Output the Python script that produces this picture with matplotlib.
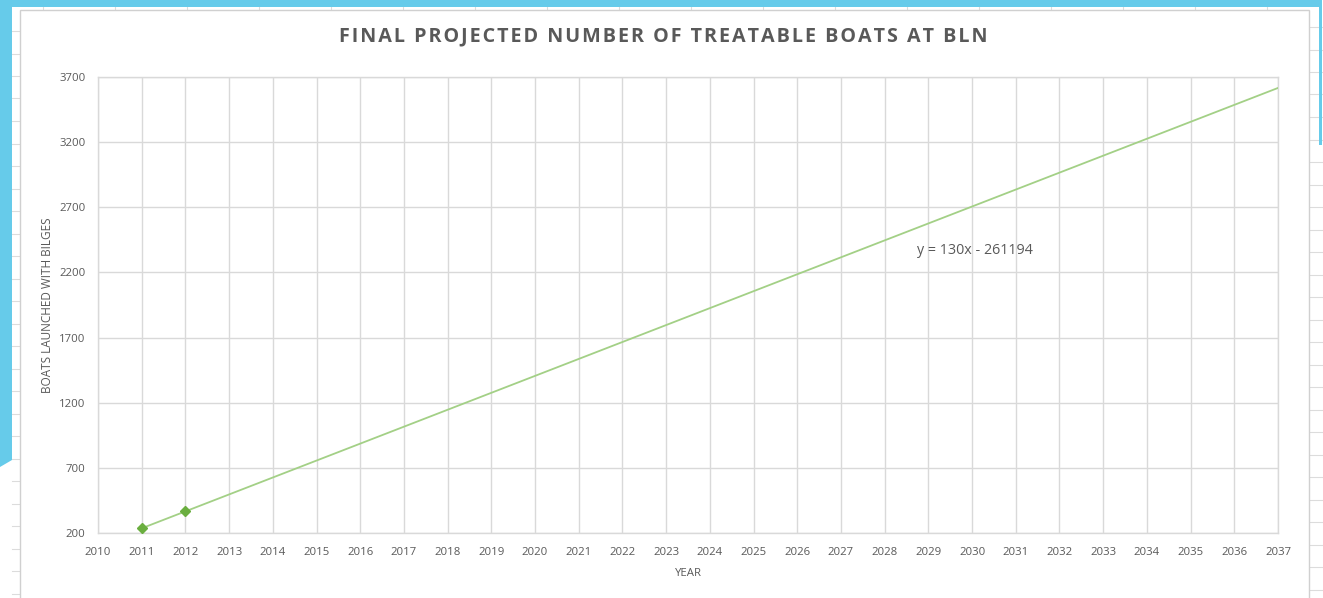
import matplotlib.pyplot as plt
import numpy as np
from matplotlib.patches import Rectangle, Polygon

# Observed data
years = [2011, 2012]
boats = [236, 366]

# Axis ranges / ticks
x_ticks = list(range(2010, 2038))
y_ticks = [200, 700, 1200, 1700, 2200, 2700, 3200, 3700]
trend_end = 2037

title = "FINAL PROJECTED NUMBER OF TREATABLE BOATS AT BLN"
xlabel = "YEAR"
ylabel = "BOATS LAUNCHED WITH BILGES"

W, H = 1323, 598
txt = '#595959'
grid = '#d9d9d9'
blue = '#66cbea'

if __name__ == '__main__':
    plt.rcParams['font.family'] = ['Open Sans', 'DejaVu Sans']
    fig = plt.figure(figsize=(W / 100, H / 100), dpi=100)

    # spreadsheet background lines
    for y in np.arange(31, H, 22.5):
        fig.add_artist(plt.Line2D([12 / W, 20 / W], [1 - y / H] * 2, color='#dcdcdc', lw=0.8, zorder=-3))
        fig.add_artist(plt.Line2D([1309 / W, 1323 / W], [1 - (y - 4) / H] * 2, color='#dcdcdc', lw=0.8, zorder=-3))
    for x in np.arange(43, W, 72):
        fig.add_artist(plt.Line2D([x / W] * 2, [1 - 7 / H, 1 - 10 / H], color='#dcdcdc', lw=0.8, zorder=-3))

    # blue slide frame
    fig.add_artist(Rectangle((0, 1 - 7 / H), 1320 / W, 7 / H, transform=fig.transFigure,
                             color=blue, lw=0, zorder=-2))
    fig.add_artist(Polygon([(0, 1), (12 / W, 1), (12 / W, 1 - 460 / H), (0, 1 - 467 / H)],
                           closed=True, transform=fig.transFigure, color=blue, lw=0, zorder=-2))
    fig.add_artist(Rectangle((1319 / W, 1 - 145 / H), 3 / W, 145 / H, transform=fig.transFigure,
                             color=blue, lw=0, zorder=-2))

    # white chart area
    fig.add_artist(Rectangle((20 / W, -0.01), (1309 - 20) / W, 1.01 - 10 / H,
                             transform=fig.transFigure, facecolor='white',
                             edgecolor='#d0d0d0', lw=1.0, zorder=-1))

    ax = fig.add_axes([98 / W, 1 - 533 / H, (1278 - 98) / W, (533 - 77) / H])
    ax.set_facecolor('white')

    # linear trendline from data
    slope, intercept = np.polyfit(years, boats, 1)
    tx = np.array([years[0], trend_end])
    ax.plot(tx, slope * tx + intercept, color='#a3d086', lw=1.3, zorder=3)
    ax.plot(years, boats, linestyle='none', marker='D', markersize=5.5,
            color='#6aae3f', zorder=4)

    ax.text(2028.75, 2370, "y = %dx - %d" % (round(slope), round(-intercept)),
            fontsize=10.3, color=txt, va='center', ha='left')

    ax.set_xlim(2010, 2037)
    ax.set_ylim(200, 3700)
    ax.set_xticks(x_ticks)
    ax.set_yticks(y_ticks)
    ax.grid(True, color=grid, lw=1.0)
    ax.set_axisbelow(True)
    for s in ax.spines.values():
        s.set_color(grid)
        s.set_linewidth(1.0)
    ax.tick_params(length=0, labelsize=8.2, labelcolor=txt)
    ax.tick_params(axis='x', pad=10)
    ax.tick_params(axis='y', pad=9)

    ax.set_xlabel(xlabel, fontsize=8.2, color=txt, labelpad=7)
    ax.set_ylabel(ylabel, fontsize=8.5, color=txt, labelpad=4)

    spaced = '\u200a'.join(title)
    fig.text(663 / W, 1 - 36 / H, spaced, fontsize=14.2, fontweight='bold',
             color=txt, ha='center', va='center')

    plt.savefig('out.png', dpi=100)
    plt.close()
